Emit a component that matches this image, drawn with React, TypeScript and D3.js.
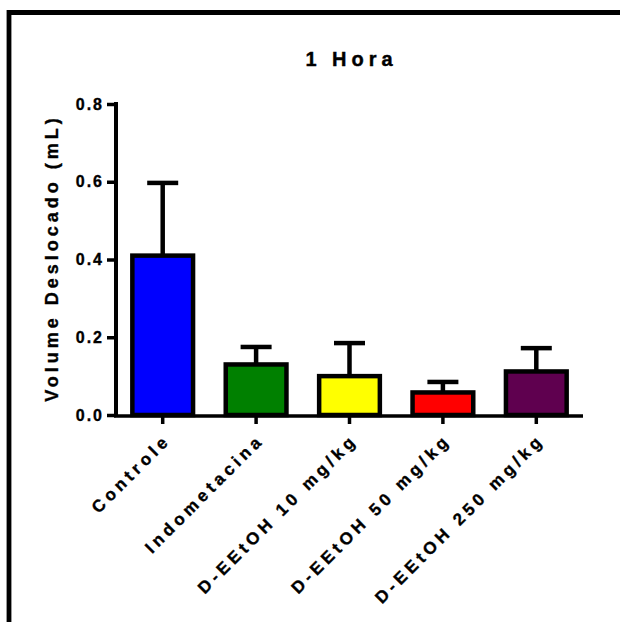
import React, { useRef, useEffect } from "react";
import * as d3 from "d3";

const GROUPS = ["Controle", "Indometacina", "D-EEtOH 10 mg/kg", "D-EEtOH 50 mg/kg", "D-EEtOH 250 mg/kg"];
const MEANS = [0.41, 0.13, 0.1, 0.058, 0.112];
const SEM = [0.187, 0.045, 0.085, 0.027, 0.06];
const COLORS = ["#0000FF", "#008000", "#FFFF00", "#FF0000", "#5F004F"];
const Y_TICKS = [0, 0.2, 0.4, 0.6, 0.8];

const FONT = "'Liberation Sans', Arial, sans-serif";

export default function App() {
  const svgRef = useRef<SVGSVGElement>(null);

  useEffect(() => {
    if (!svgRef.current) return;
    const svg = d3.select(svgRef.current);
    svg.selectAll("*").remove();

    const data = GROUPS.map((g, i) => ({ name: g, mean: MEANS[i], sem: SEM[i], color: COLORS[i] }));

    const x = d3.scaleBand<string>()
      .domain(GROUPS)
      .range([116, 583])
      .paddingInner(0.35)
      .paddingOuter(0.175);

    const y = d3.scaleLinear().domain([0, 0.8]).range([415, 104]);

    // frame (only left + top edges visible)
    svg.append("path")
      .attr("d", "M9,640 L9,12.5 L640,12.5")
      .attr("fill", "none")
      .attr("stroke", "#000")
      .attr("stroke-width", 4.8);

    // title
    svg.append("text")
      .attr("x", 349)
      .attr("y", 66)
      .attr("text-anchor", "middle")
      .attr("dx", 2.5)
      .attr("font-family", FONT)
      .attr("font-weight", "bold")
      .attr("font-size", 20)
      .attr("letter-spacing", 5)
      .attr("stroke", "#000")
      .attr("stroke-width", 0.4)
      .text("1 Hora");

    // error bars (upper only)
    const err = svg.append("g").attr("stroke", "#000").attr("stroke-width", 4.5);
    data.forEach(d => {
      const cx = x(d.name)! + x.bandwidth() / 2;
      err.append("line")
        .attr("x1", cx).attr("x2", cx)
        .attr("y1", y(d.mean)).attr("y2", y(d.mean + d.sem));
      err.append("line")
        .attr("x1", cx - 15.5).attr("x2", cx + 15.5)
        .attr("y1", y(d.mean + d.sem)).attr("y2", y(d.mean + d.sem));
    });

    // bars
    svg.append("g")
      .selectAll("rect")
      .data(data)
      .enter()
      .append("rect")
      .attr("x", d => x(d.name)!)
      .attr("width", x.bandwidth())
      .attr("y", d => y(d.mean))
      .attr("height", d => y(0) - y(d.mean))
      .attr("fill", d => d.color)
      .attr("stroke", "#000")
      .attr("stroke-width", 4.5);

    // y axis
    const yAxis = d3.axisLeft(y)
      .tickValues(Y_TICKS)
      .tickFormat(d3.format(".1f"))
      .tickSize(9)
      .tickPadding(5);

    const yg = svg.append("g")
      .attr("transform", "translate(116,0)")
      .call(yAxis);
    yg.select(".domain").attr("stroke-width", 4).attr("d", "M0,102V417");
    yg.selectAll(".tick line").attr("stroke-width", 3.5);
    yg.selectAll("text")
      .attr("font-family", FONT)
      .attr("font-weight", "bold")
      .attr("font-size", 16)
      .attr("letter-spacing", 2)
      .attr("dx", 2)
      .attr("stroke", "#000")
      .attr("stroke-width", 0.35);

    // x axis
    const xAxis = d3.axisBottom(x).tickSize(8).tickFormat(() => "");
    const xg = svg.append("g")
      .attr("transform", "translate(0,416)")
      .call(xAxis);
    xg.select(".domain").attr("stroke-width", 3.5).attr("d", "M114,0H583");
    xg.selectAll(".tick line").attr("stroke-width", 3.5);

    // rotated category labels
    svg.append("g")
      .selectAll("text")
      .data(GROUPS)
      .enter()
      .append("text")
      .attr("transform", d => `translate(${x(d)! + x.bandwidth() / 2 + 6},${444}) rotate(-45)`)
      .attr("text-anchor", "end")
      .attr("dx", 4.2)
      .attr("font-family", FONT)
      .attr("font-weight", "bold")
      .attr("font-size", 17)
      .attr("letter-spacing", 4.2)
      .attr("stroke", "#000")
      .attr("stroke-width", 0.35)
      .text(d => d);

    // y label
    svg.append("text")
      .attr("transform", "translate(58,260) rotate(-90)")
      .attr("text-anchor", "middle")
      .attr("dx", 2)
      .attr("font-family", FONT)
      .attr("font-weight", "bold")
      .attr("font-size", 18)
      .attr("letter-spacing", 4)
      .attr("stroke", "#000")
      .attr("stroke-width", 0.35)
      .text("Volume Deslocado (mL)");
  }, []);

  return (
    <svg
      ref={svgRef}
      width={620}
      height={622}
      style={{ position: "absolute", left: 0, top: 0, background: "#fff" }}
    />
  );
}
